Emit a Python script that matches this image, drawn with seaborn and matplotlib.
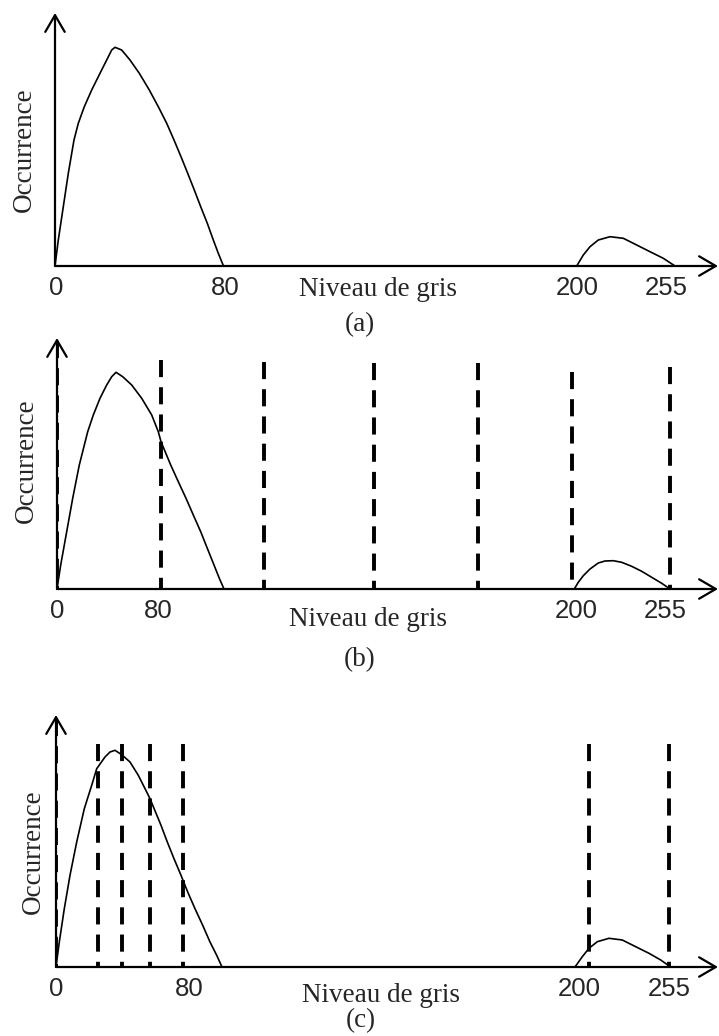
import matplotlib
matplotlib.use("Agg")
import matplotlib.pyplot as plt
import seaborn as sns
import pandas as pd

# ---------------- data (schematic units: x = distance from the y-axis, y = height above baseline)
tick_labels = ["0", "80", "200", "255"]
a_ticks = [1, 170, 522, 611]
b_ticks = [0, 101, 519, 608]
c_ticks = [0, 133, 523, 613]

a_main_x = [0, 3.3, 8.3, 13.3, 19, 23.3, 29.3, 36.7, 45, 51.7, 56.7, 60, 66.7, 75, 84.3, 94.3,
            103.3, 111.7, 119, 126, 132.7, 139.3, 145.7, 152.3, 158.3, 163.3, 168.5]
a_main_y = [0, 26, 59.3, 92.7, 126, 142.7, 159.3, 176, 192.7, 206, 216, 218.7, 216, 206, 192.7, 176,
            159.3, 142.7, 126, 109.3, 92.7, 76, 59.3, 42.7, 26, 12.7, 0]
a_bump_x = [521.7, 528.3, 535, 543.3, 555, 568.3, 581.7, 595, 608.3, 620]
a_bump_y = [0, 11, 19.3, 26, 29.3, 27.7, 21, 14.3, 7.7, 0]

b_main_x = [0, 3.7, 9.7, 15.7, 22.3, 30.7, 36.3, 43, 49.7, 54.7, 59, 65.7, 74.7, 84.7, 94.7,
            101.3, 104, 113.7, 121.3, 129, 136.3, 143.7, 150.3, 157, 162.3, 167]
b_main_y = [0, 24, 57.3, 90.7, 124, 157.3, 174, 190.7, 204, 212.3, 216.7, 212.3, 204, 190.7, 174,
            157.3, 147.3, 124, 107.3, 90.7, 74, 57.3, 40.7, 24, 10.7, 0]
b_bump_x = [517.3, 521.3, 526.3, 533, 541.3, 548, 556.3, 564.7, 574.7, 584.7, 594.7, 604.7, 613]
b_bump_y = [0, 6.7, 13.3, 20, 26, 28, 28.3, 26.7, 22.7, 17.7, 11.7, 5.7, 0]
b_cuts = [0, 104, 207, 317, 421, 515, 613]
b_cut_tops = [248, 229, 227, 226, 226, 217, 222]

c_main_x = [0, 3.3, 8.3, 14, 20.7, 28.3, 35.7, 40.7, 49, 54, 59, 65.7, 74, 82.3, 90.7, 94,
            105, 111.3, 118, 125, 131.7, 139, 146.7, 154, 160.7, 166]
c_main_y = [0, 25, 58.3, 91.7, 125, 158.3, 181.7, 198.3, 210, 215, 216.7, 212.3, 205, 191.7, 175, 168.3,
            141.7, 125, 108.3, 91.7, 75, 58.3, 41.7, 25, 11.7, 0]
c_bump_x = [519, 526.3, 533, 541.3, 553, 566.3, 579.7, 593, 604.7, 614.7]
c_bump_y = [0, 10.3, 18.7, 25.3, 28.7, 27, 20.3, 13.7, 7, 0]
c_cuts = [0, 42, 66, 94, 127, 533, 613]
c_cut_tops = [248, 223, 223, 223, 223, 223, 223]

xlabel = "Niveau de gris"
ylabel = "Occurrence"
captions = ["(a)", "(b)", "(c)"]

# ---------------- style
sns.set_theme(style="white")
plt.rcParams["font.family"] = ["Liberation Serif", "DejaVu Serif"]
SERIF = ["Liberation Serif", "DejaVu Serif"]
SANS = ["Liberation Sans Narrow", "Liberation Sans", "DejaVu Sans"]

W, H = 719, 1036
fig = plt.figure(figsize=(W / 100, H / 100), dpi=100)
fig.patch.set_facecolor("white")

# layout per panel in pixels: y-axis x, baseline y, arrow top y, label centres, caption centre
panels = [
    dict(L=55, B=266, T=13, xl=(378, 290), yl=(24, 150), cap=(360, 325),
         ticks=a_ticks, mx=a_main_x, my=a_main_y, bx=a_bump_x, by=a_bump_y, cuts=None, tops=None),
    dict(L=57, B=589, T=338, xl=(368, 619), yl=(26, 461), cap=(360, 660),
         ticks=b_ticks, mx=b_main_x, my=b_main_y, bx=b_bump_x, by=b_bump_y, cuts=b_cuts, tops=b_cut_tops),
    dict(L=56, B=967, T=715, xl=(381, 995), yl=(33, 852), cap=(361, 1021),
         ticks=c_ticks, mx=c_main_x, my=c_main_y, bx=c_bump_x, by=c_bump_y, cuts=c_cuts, tops=c_cut_tops),
]

for i, p in enumerate(panels):
    L, B, T = p["L"], p["B"], p["T"]
    xmax = W - 1 - L
    ymax = B - T
    ax = fig.add_axes([L / W, (H - B) / H, xmax / W, ymax / H])
    ax.set_xlim(0, xmax)
    ax.set_ylim(0, ymax)
    ax.set_facecolor("none")
    for s in ax.spines.values():
        s.set_visible(False)

    # axes with open arrowheads
    arrow = dict(arrowstyle="->,head_length=1.2,head_width=0.7", lw=1.6, color="black",
                 shrinkA=0, shrinkB=0, mutation_scale=10)
    ax.annotate("", xy=(xmax, 0), xytext=(0, 0), arrowprops=arrow, annotation_clip=False)
    ax.annotate("", xy=(0, ymax), xytext=(0, 0), arrowprops=arrow, annotation_clip=False)

    # histogram sketches
    main = pd.DataFrame({"x": p["mx"], "y": p["my"]})
    bump = pd.DataFrame({"x": p["bx"], "y": p["by"]})
    for df in (main, bump):
        sns.lineplot(data=df, x="x", y="y", ax=ax, color="black", lw=1.2, sort=False,
                     estimator=None, solid_joinstyle="round", solid_capstyle="round")

    # dashed partition lines
    if p["cuts"] is not None:
        ax.vlines(p["cuts"], p["tops"], 0, colors="black", lw=2.8,
                  linestyles=[(0, (4.4, 2.6))])

    ax.set_xticks(p["ticks"])
    ax.set_xticklabels(tick_labels, fontsize=18.5, family=SANS)
    ax.tick_params(axis="x", length=0, pad=7)
    ax.set_yticks([])

    ax.set_xlabel(xlabel, fontsize=19.5, family=SERIF)
    ax.xaxis.label.set_va("center")
    ax.xaxis.set_label_coords((p["xl"][0] - L) / xmax, (B - p["xl"][1]) / ymax)
    ax.set_ylabel(ylabel, fontsize=19.5, family=SERIF)
    ax.yaxis.label.set_va("center")
    ax.yaxis.label.set_ha("center")
    ax.yaxis.set_label_coords((p["yl"][0] - L) / xmax, (B - p["yl"][1]) / ymax)

    fig.text(p["cap"][0] / W, 1 - p["cap"][1] / H, captions[i], fontsize=19.5,
             family=SERIF, ha="center", va="center")

fig.savefig("out.png", dpi=100, facecolor="white")
